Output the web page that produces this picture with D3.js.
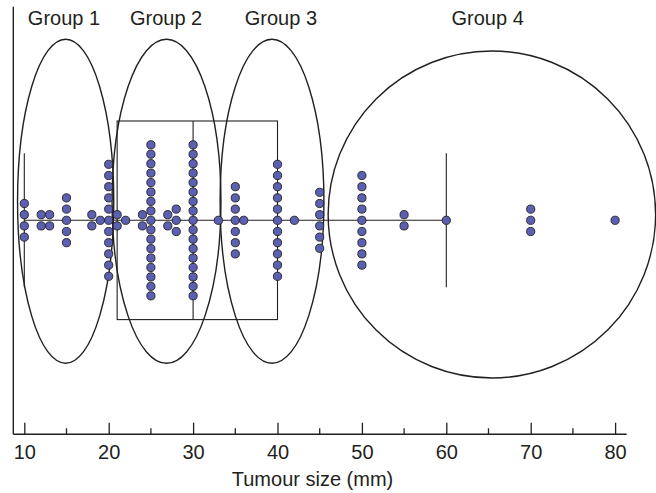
<!DOCTYPE html>
<html>
<head>
<meta charset="utf-8">
<script src="https://cdn.jsdelivr.net/npm/d3@7"></script>
<style>
  html, body { margin: 0; padding: 0; background: #fff; }
  svg { display: block; font-family: "Liberation Sans", Arial, sans-serif; }
</style>
</head>
<body>
<svg width="656" height="493"></svg>
<script>
// tumour sizes (mm) and how many patients had each size
var sizeValues    = [10, 12, 13, 15, 18, 19, 20, 21, 22, 24, 25, 27, 28, 30, 33, 35, 36, 40, 42, 45, 50, 55, 60, 70, 80];
var patientCounts = [ 4,  2,  2,  5,  2,  1, 11,  2,  1,  2, 17,  2,  3, 17,  1,  7,  1, 11,  1,  6,  9,  2,  1,  3,  1];

// size bands (mm) of the four groups
var groupNames  = ["Group 1", "Group 2", "Group 3", "Group 4"];
var groupRanges = [[9.2, 20.6], [20.4, 33.3], [33.2, 45.5], [46.0, 84.8]];

var majorTicks = [10, 20, 30, 40, 50, 60, 70, 80];
var minorTicks = [15, 25, 35, 45, 55, 65, 75];
var xTitle = "Tumour size (mm)";

var ink = "#231f20";
var dotFill = "#5b60b2";

var svg = d3.select("svg");

var x = d3.scaleLinear().domain([10, 80]).range([24.3, 615.1]);
var midY = 220.3;      // line the dots are stacked around
var axisY = 434.3;
var axisLeft = 13.3, axisRight = 626.7;

// label anchor (mm) and vertical extent (px) of each group outline
var labelAt = [14.7, 26.8, 40.4, 64.9];
var outlineTop = [39.3, 39.3, 39.3, 51];
var outlineBottom = [363.3, 363.3, 363.3, 378];

// expand to one record per patient
var patients = [];
sizeValues.forEach(function(v, i) {
  var n = patientCounts[i];
  var step = n > 1 ? Math.min(11.2, 151 / (n - 1)) : 0;
  for (var k = 0; k < n; k++) {
    patients.push({ size: v, y: midY + (k - (n - 1) / 2) * step });
  }
});

// box plot stats (Tukey hinges, 1.5 IQR whiskers)
var sorted = patients.map(function(d) { return d.size; }).sort(d3.ascending);
var half = Math.floor(sorted.length / 2);
var med = d3.median(sorted);
var q1 = d3.median(sorted.slice(0, half));
var q3 = d3.median(sorted.slice(sorted.length - half));
var iqr = q3 - q1;
var loW = d3.min(sorted.filter(function(v) { return v >= q1 - 1.5 * iqr; }));
var hiW = d3.max(sorted.filter(function(v) { return v <= q3 + 1.5 * iqr; }));

// group outlines
svg.append("g").selectAll("ellipse")
  .data(groupRanges)
  .enter().append("ellipse")
  .attr("cx", function(d) { return (x(d[0]) + x(d[1])) / 2; })
  .attr("rx", function(d) { return (x(d[1]) - x(d[0])) / 2; })
  .attr("cy", function(d, i) { return (outlineTop[i] + outlineBottom[i]) / 2; })
  .attr("ry", function(d, i) { return (outlineBottom[i] - outlineTop[i]) / 2; })
  .attr("fill", "none")
  .attr("stroke", ink)
  .attr("stroke-width", 1.4);

svg.append("g").selectAll("text")
  .data(groupNames)
  .enter().append("text")
  .attr("x", function(d, i) { return x(labelAt[i]); })
  .attr("y", 25.3)
  .attr("text-anchor", "middle")
  .attr("font-size", 20)
  .attr("fill", ink)
  .text(function(d) { return d; });

// box plot
var box = svg.append("g").attr("stroke", ink).attr("stroke-width", 1.1).attr("fill", "none");
box.append("rect")
  .attr("x", x(q1)).attr("y", midY - 99.3)
  .attr("width", x(q3) - x(q1)).attr("height", 198.6);
box.append("line")
  .attr("x1", x(med)).attr("x2", x(med))
  .attr("y1", midY - 99.3).attr("y2", midY + 99.3);
box.append("line")
  .attr("x1", x(loW)).attr("x2", x(hiW))
  .attr("y1", midY).attr("y2", midY);
[loW, hiW].forEach(function(v) {
  box.append("line")
    .attr("x1", x(v)).attr("x2", x(v))
    .attr("y1", midY - 67).attr("y2", midY + 67);
});

// dots
svg.append("g").selectAll("circle")
  .data(patients)
  .enter().append("circle")
  .attr("cx", function(d) { return x(d.size); })
  .attr("cy", function(d) { return d.y; })
  .attr("r", 4.1)
  .attr("fill", dotFill)
  .attr("stroke", ink)
  .attr("stroke-width", 0.9);

// axes
var xAxis = d3.axisBottom(x)
  .tickValues(majorTicks)
  .tickFormat(d3.format("d"))
  .tickSizeInner(-11.6)
  .tickSizeOuter(0)
  .tickPadding(11);

var gx = svg.append("g")
  .attr("transform", "translate(0," + axisY + ")")
  .call(xAxis);
gx.select(".domain").remove();
gx.selectAll(".tick line").attr("stroke", ink).attr("stroke-width", 1.3);
gx.selectAll(".tick text")
  .attr("fill", ink)
  .attr("font-size", 20)
  .attr("font-family", "Liberation Sans, Arial, sans-serif");

gx.selectAll(".minor")
  .data(minorTicks)
  .enter().append("line")
  .attr("class", "minor")
  .attr("x1", function(d) { return x(d); }).attr("x2", function(d) { return x(d); })
  .attr("y1", 0).attr("y2", -6)
  .attr("stroke", ink).attr("stroke-width", 1.3);

svg.append("line")
  .attr("x1", axisLeft).attr("x2", axisRight)
  .attr("y1", axisY).attr("y2", axisY)
  .attr("stroke", ink).attr("stroke-width", 1.4);
svg.append("line")
  .attr("x1", axisLeft).attr("x2", axisLeft)
  .attr("y1", 6.7).attr("y2", axisY)
  .attr("stroke", ink).attr("stroke-width", 1.4);

svg.append("text")
  .attr("x", 312.5)
  .attr("y", 486)
  .attr("text-anchor", "middle")
  .attr("font-size", 20)
  .attr("fill", ink)
  .text(xTitle);
</script>
</body>
</html>
